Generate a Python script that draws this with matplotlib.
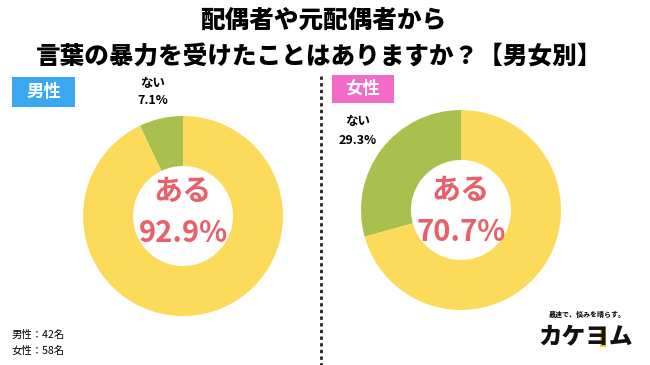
import matplotlib.pyplot as plt
from matplotlib.patches import Rectangle

plt.rcParams['font.family'] = ['Noto Sans CJK JP', 'DejaVu Sans']

# データ
title_lines = ['配偶者や元配偶者から', '言葉の暴力を受けたことはありますか？【男女別】']
groups = ['男性', '女性']
labels = ['ない', 'ある']
values_male = [7.1, 92.9]
values_female = [29.3, 70.7]
counts = [42, 58]

YELLOW = '#FCDB5A'
GREEN = '#A9BF4E'
RED = '#E8606A'

W, H = 650, 365
fig = plt.figure(figsize=(6.5, 3.65), dpi=100)
ax = fig.add_axes([0, 0, 1, 1])


def Y(y):
    # 画像座標(上から)をaxes座標へ
    return H - y


def donut(values, cx, cy, r):
    ax.pie(values, colors=[GREEN, YELLOW], startangle=90, counterclock=True,
           center=(cx, Y(cy)), radius=r,
           wedgeprops={'width': r * 0.5, 'linewidth': 0})


donut(values_male, 183, 216, 100)
donut(values_female, 461, 210, 100)

ax.set_xlim(0, W)
ax.set_ylim(0, H)
ax.set_aspect('equal')
ax.axis('off')

# タイトル
ax.text(323, Y(20), title_lines[0], ha='center', va='center',
        fontsize=17.7, fontweight='heavy')
ax.text(319, Y(56), title_lines[1], ha='center', va='center',
        fontsize=17.7, fontweight='heavy')

# グループラベル
ax.add_patch(Rectangle((12, Y(107)), 63, 30, color='#3AA8F0', lw=0))
ax.text(43.5, Y(92), groups[0], ha='center', va='center', color='white',
        fontsize=12.5, fontweight='bold')
ax.add_patch(Rectangle((332, Y(103)), 62, 28, color='#F26BC6', lw=0))
ax.text(363, Y(89), groups[1], ha='center', va='center', color='white',
        fontsize=12.5, fontweight='bold')

# 中央テキスト
ax.text(183, Y(191), labels[1], ha='center', va='center', color=RED,
        fontsize=21, fontweight='bold')
ax.text(183, Y(233), f'{values_male[1]}%', ha='center', va='center', color=RED,
        fontsize=21, fontweight='bold')
ax.text(461, Y(190), labels[1], ha='center', va='center', color=RED,
        fontsize=21, fontweight='bold')
ax.text(461, Y(232), f'{values_female[1]}%', ha='center', va='center', color=RED,
        fontsize=21, fontweight='bold')

# 「ない」ラベル
ax.text(153, Y(83), labels[0], ha='center', va='center', fontsize=9, fontweight='bold')
ax.text(153, Y(101), f'{values_male[0]}%', ha='center', va='center', fontsize=9,
        fontweight='bold')
ax.text(358, Y(121), labels[0], ha='center', va='center', fontsize=9, fontweight='bold')
ax.text(358, Y(141), f'{values_female[0]}%', ha='center', va='center', fontsize=9,
        fontweight='bold')

# 区切り線
ax.plot([321, 321], [Y(76), Y(365)], color='#222222', lw=2, ls=(0, (1.2, 1.2)))

# 注記
ax.text(12, Y(335), f'{groups[0]}：{counts[0]}名', ha='left', va='center', fontsize=7.5)
ax.text(12, Y(351), f'{groups[1]}：{counts[1]}名', ha='left', va='center', fontsize=7.5)

# ロゴ
ax.text(587, Y(314), '最速で、悩みを晴らす。', ha='center', va='center', fontsize=5,
        fontweight='bold')
ax.add_patch(Rectangle((600, Y(347)), 6, 20, color='#F7D31E', lw=0))
ax.text(586, Y(337), 'カケヨム', ha='center', va='center', fontsize=17,
        fontweight='heavy', color='#111111')

fig.savefig('out.png', dpi=100)
